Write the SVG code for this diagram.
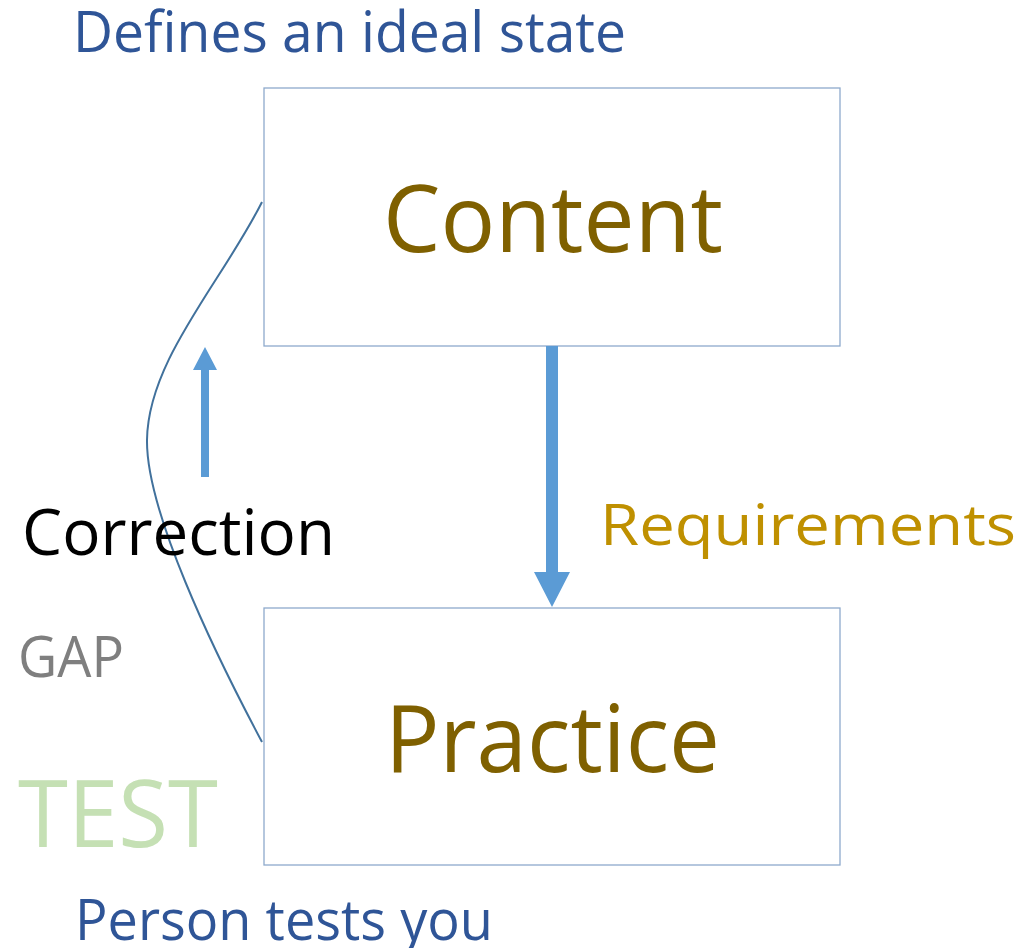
<svg xmlns="http://www.w3.org/2000/svg" width="1024" height="948" viewBox="0 0 1024 948">
<style>
text{font-family:"Open Sans","Noto Sans","Liberation Sans",sans-serif;}
.box{fill:#ffffff;stroke:#8eaacc;stroke-width:1.3;}
.arrow{fill:#5b9bd5;stroke:none;}
.curve{fill:none;stroke:#41719c;stroke-width:2;}
.blue{fill:#2f5597;}
.brown{fill:#7f6000;}
</style>
<rect width="1024" height="948" fill="#ffffff"/>
<g id="content">
<rect class="box" x="264" y="88" width="576" height="258"/>
<text class="brown" x="383" y="252" font-size="94" textLength="340" lengthAdjust="spacingAndGlyphs">Content</text>
</g>
<g id="practice">
<rect class="box" x="264" y="608" width="576" height="257"/>
<text class="brown" x="385" y="772" font-size="94" textLength="335" lengthAdjust="spacingAndGlyphs">Practice</text>
</g>
<g id="connectors">
<path class="arrow" d="M546,346 H558 V572 H570 L552,607 L534,572 H546 Z"/>
<path class="arrow" d="M201,477 V370 H193 L205,347 L217,370 H209 V477 Z"/>
<path class="curve" d="M262,202 C222,282 148,360 147,440 C146,510 212,648 262,742"/>
</g>
<g id="labels">
<text class="blue" x="73" y="52" font-size="56" textLength="553" lengthAdjust="spacingAndGlyphs">Defines an ideal state</text>
<text x="600" y="545" font-size="57" fill="#bf9000" textLength="416" lengthAdjust="spacingAndGlyphs">Requirements</text>
<text x="22" y="555" font-size="64" fill="#000000" textLength="313" lengthAdjust="spacingAndGlyphs">Correction</text>
<text x="18" y="677" font-size="56" fill="#7f7f7f" textLength="106" lengthAdjust="spacingAndGlyphs">GAP</text>
<text x="18" y="847" font-size="94" fill="#c5e0b4" textLength="200" lengthAdjust="spacingAndGlyphs">TEST</text>
<text class="blue" x="75" y="940" font-size="56" textLength="418" lengthAdjust="spacingAndGlyphs">Person tests you</text>
</g>
</svg>
